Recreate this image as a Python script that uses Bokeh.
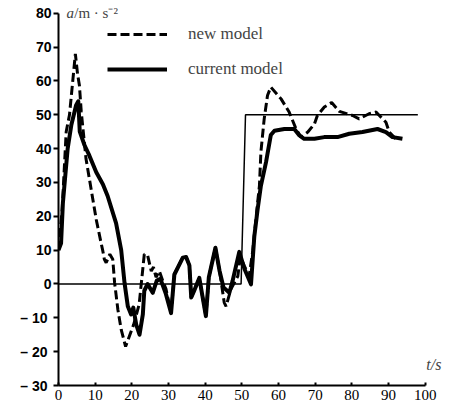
from bokeh.plotting import figure
from bokeh.models import Range1d, Legend, LegendItem, Label, FixedTicker
from bokeh.embed import file_html
from bokeh.resources import INLINE

# ---- data ----
current_x = [0, 0.7, 1.2, 2.5, 3.5, 4.8, 5.4, 5.8, 7.1, 8.4, 10.3, 12.1, 13.4, 15.7, 17.1,
             18.0, 18.9, 19.8, 20.4, 21.2, 22.1, 23.0, 23.4, 24.3, 25.7, 26.8, 27.8, 29.3,
             30.7, 31.6, 33.9, 34.8, 35.7, 36.2, 37.0, 38.4, 40.2, 41.0, 42.8, 43.9, 45.0,
             46.6, 47.5, 49.3, 50.7, 52.5, 53.4, 54.3, 55.2, 56.6, 57.9, 58.9, 61.6, 64.3,
             65.7, 67.0, 69.8, 72.5, 76.1, 79.3, 82.9, 87.0, 89.3, 91.1, 93.8]
current_y = [10, 12, 24, 40, 47, 52.8, 54, 45, 41, 38, 33, 29.5, 26, 18, 10,
             0.4, -6.6, -9, -7, -12, -15, -9, -2, 0, -2.6, 1, 1.5, -3,
             -8.6, 2.8, 7.8, 8, 5.5, -4, -2, 1.8, -9.5, 2, 10.7, 4, -1,
             -2.6, 1, 9.5, 4.5, -0.1, 14, 22, 29, 36, 44, 45.3, 45.8, 45.8,
             43.9, 42.9, 42.9, 43.4, 43.4, 44.4, 44.9, 45.8, 44.9, 43.4, 42.9]

new_x = [0, 1, 2.1, 3, 4.6, 5.2, 5.7, 6.2, 7.5, 8.9, 10.3, 11.6, 12.1, 12.5, 13, 14, 14.8,
         15.3, 16.2, 17.1, 18.3, 19.3, 20.5, 22, 23.4, 24.3, 25.3, 25.9, 26.6, 27.5, 28.4,
         29.3, 30.7, 31.6, 33.9, 34.8, 35.7, 36.2, 37, 38.4, 40.2, 41, 42.8, 43.9, 45.2,
         45.7, 47, 48.9, 49.6, 50.7, 52, 53, 54.3, 54.8, 55.2, 56.1, 57, 57.9, 60.7, 62.9,
         64.8, 66.1, 68, 69.8, 70.6, 72.5, 74.5, 76.6, 80.2, 82, 84.7, 86.6, 87.5, 89.3,
         90.2, 92]
new_y = [10, 22, 45, 50, 68, 62, 58.7, 51, 37, 28, 19, 12.2, 9.7, 7.3, 6.3, 8.8, 7.3,
         0.4, -7.6, -13.5, -18.5, -15.5, -12, -6, 8.8, 8.5, 3.8, 5, 2, 3.8, 1,
         -1.4, -8.6, 2.8, 7.8, 8, 5.5, -4, -2, 1.8, -9.5, 2, 10.7, 4, -5.5,
         -6.6, -1.6, 2.3, 8, 5.3, 2.3, 10, 24, 29, 39, 48.8, 55.7, 58.2, 54.7, 50.8,
         45.8, 43.4, 44.9, 47.3, 49.8, 52.3, 53.6, 51, 49.8, 48.8, 50.3, 50.8, 49.8, 47.8,
         44.9, 42.9]

ref_x = [0, 49.8, 51, 98]
ref_y = [0, 0, 50, 50]

x_ticks = [0, 10, 20, 30, 40, 50, 60, 70, 80, 90, 100]
y_ticks = [-30, -20, -10, 0, 10, 20, 30, 40, 50, 60, 70, 80]
y_tick_labels = {-30: "\u2013  30", -20: "\u2013  20", -10: "\u2013  10"}

p = figure(frame_width=385, frame_height=379, x_range=Range1d(0, 105), y_range=Range1d(-30, 82),
           output_backend="svg", toolbar_location=None,
           min_border_left=58, min_border_right=6, min_border_top=6, min_border_bottom=20)
p.xgrid.visible = False
p.ygrid.visible = False
p.outline_line_color = None
p.background_fill_color = "white"

ref = p.line(ref_x, ref_y, line_color="black", line_width=1.5)
solid = p.line(current_x, current_y, line_color="black", line_width=4, line_join="round")
dashed = p.line(new_x, new_y, line_color="black", line_width=3, line_dash="9 4")

for ax in (p.xaxis[0], p.yaxis[0]):
    ax.axis_line_width = 2
    ax.axis_line_color = "black"
    ax.major_tick_line_color = "black"
    ax.major_tick_line_width = 2
    ax.minor_tick_line_color = None

p.xaxis.bounds = (0, 100)
p.xaxis.ticker = FixedTicker(ticks=x_ticks)
p.xaxis.major_tick_in = 3
p.xaxis.major_tick_out = 0
p.xaxis.major_label_standoff = 4
p.xaxis.major_label_text_font = "Liberation Serif"
p.xaxis.major_label_text_font_size = "15px"
p.xaxis.major_label_text_color = "black"

p.yaxis.bounds = (-30, 80)
p.yaxis.ticker = FixedTicker(ticks=y_ticks)
p.yaxis.major_label_overrides = y_tick_labels
p.yaxis.major_tick_in = 0
p.yaxis.major_tick_out = 5
p.yaxis.major_label_standoff = 2
p.yaxis.major_label_text_font = "Liberation Sans"
p.yaxis.major_label_text_font_style = "bold"
p.yaxis.major_label_text_font_size = "14px"
p.yaxis.major_label_text_color = "black"

legend = Legend(items=[LegendItem(label="new model", renderers=[dashed]),
                       LegendItem(label="current model", renderers=[solid])],
                location=(49, 306), glyph_width=60, glyph_height=20, label_height=20,
                spacing=15, padding=0, margin=0, border_line_color=None,
                background_fill_alpha=0, label_text_font="Liberation Serif",
                label_text_font_size="17px", label_standoff=21)
p.add_layout(legend)

p.add_layout(Label(x=2.2, y=80, text="a", text_font="Liberation Serif", text_font_style="italic",
                   text_font_size="15px", text_baseline="middle", text_align="left"))
p.add_layout(Label(x=4.3, y=80, text="/m \u00b7 s\u207b\u00b2", text_font="Liberation Serif",
                   text_font_size="15px", text_baseline="middle", text_align="left"))
p.add_layout(Label(x=100.3, y=-23.8, text="t/s", text_font="Liberation Serif", text_font_style="italic",
                   text_font_size="16px", text_baseline="middle", text_align="left"))

open("out.html", "w").write(file_html(p, INLINE))
